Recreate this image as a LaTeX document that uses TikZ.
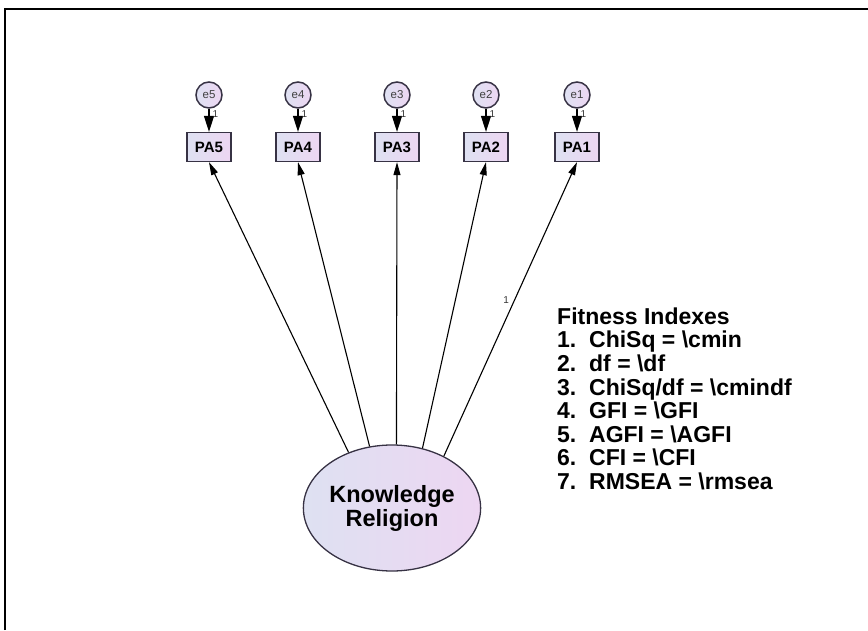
\documentclass[tikz,border=0pt]{standalone}
\usepackage{fontspec}
\setmainfont{Liberation Sans}
\usetikzlibrary{arrows.meta,shapes.geometric}
\definecolor{amosline}{RGB}{55, 50, 68}
\definecolor{amosleft}{RGB}{222, 225, 242}
\definecolor{amosright}{RGB}{237, 214, 242}

\begin{document}
\begin{tikzpicture}[x=1pt, y=1pt,
                    >={Triangle[length=13pt,width=7pt]},
    errnode/.style={circle, draw=amosline, line width=1.5pt, minimum size=26pt,
                    inner sep=0pt, left color=amosleft, right color=amosright,
                    text=black!75, font=\fontsize{11.5}{11.5}\selectfont},
    obsbox/.style={rectangle, draw=amosline, line width=1.3pt, minimum width=44pt,
                   minimum height=29pt, inner sep=0pt, left color=amosleft,
                   right color=amosright, font=\fontsize{15}{15}\selectfont\bfseries},
    latent/.style={ellipse, draw=amosline, line width=1.3pt, minimum width=170pt,
                   minimum height=126pt, inner sep=0pt, left color=amosleft,
                   right color=amosright, align=center,
                   font=\fontsize{23.5}{24}\selectfont\bfseries},
    wlabel/.style={inner sep=1pt, text=black!80, font=\fontsize{10}{10}\selectfont},
    errarrow/.style={-{Triangle[length=16pt,width=10pt]}, line width=1.2pt},
    loadarrow/.style={->, line width=1.1pt}]

    \useasboundingbox (0,0) rectangle (868,630);

    % ==========================================================
    % marco
    % ==========================================================
    \draw[line width=2pt] (5,0) -- (5,621) -- (868,621);

    % ==========================================================
    % indicadores con sus errores
    % ==========================================================
    \foreach \i/\x in {1/577, 2/486, 3/397, 4/298, 5/209} {
        \node[errnode] (e\i) at (\x,535) {e\i};
        \node[obsbox] (pa\i) at (\x,483) {PA\i};
        \draw[errarrow] (e\i) -- (pa\i)
            node[wlabel, pos=0.25, right=2pt] {1};
    }

    % ==========================================================
    % variable latente
    % ==========================================================
    \node[latent] (kr) at (392,122) {Knowledge\\Religion};

    % cargas
    \foreach \i/\a in {2/63, 3/86, 4/110, 5/128} {
        \draw[loadarrow] (kr.\a) -- (pa\i.south);
    }
    \draw[loadarrow] (kr.45) -- (pa1.south)
        node[wlabel, pos=0.53, left=4pt] {1};

    % ==========================================================
    % indices de ajuste
    % ==========================================================
    \node[anchor=north west, align=left, inner sep=0pt,
          font=\fontsize{23}{23.6}\selectfont\bfseries] (fit) at (557,322.5)
        {Fitness Indexes\\
         1.\ \ ChiSq = \textbackslash cmin\\
         2.\ \ df = \textbackslash df\\
         3.\ \ ChiSq/df = \textbackslash cmindf\\
         4.\ \ GFI = \textbackslash GFI\\
         5.\ \ AGFI = \textbackslash AGFI\\
         6.\ \ CFI = \textbackslash CFI\\
         7.\ \ RMSEA = \textbackslash rmsea};

\end{tikzpicture}
\end{document}
